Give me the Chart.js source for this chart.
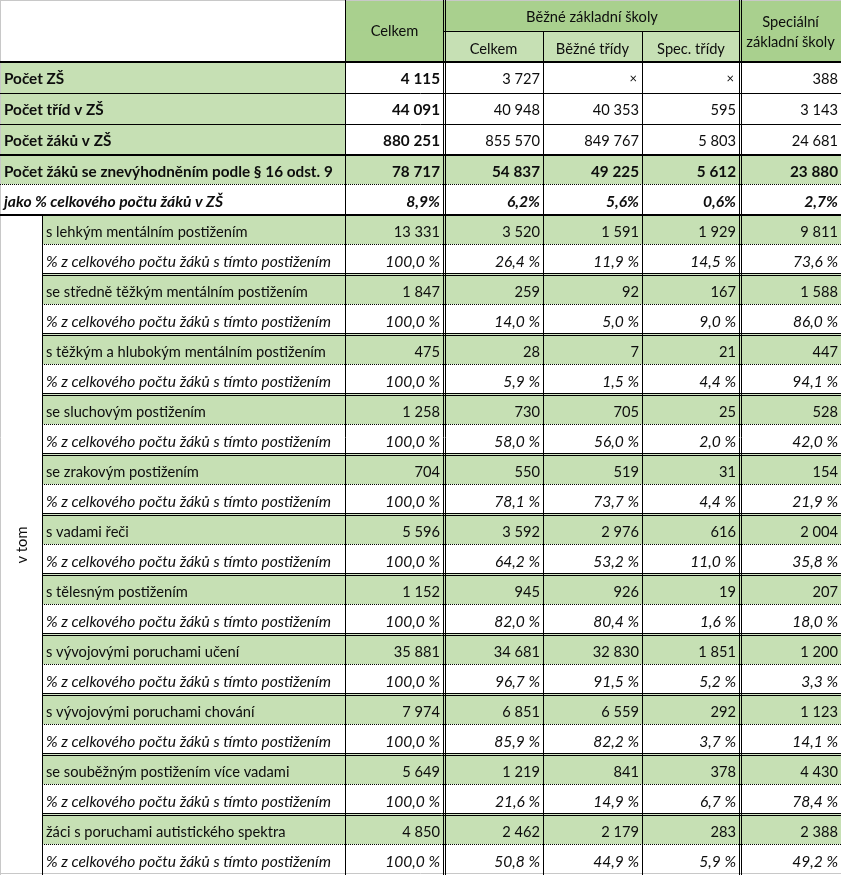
<!DOCTYPE html>
<html lang="cs">
<head>
<meta charset="utf-8">
<title>Žáci se znevýhodněním v ZŠ</title>
<script src="https://cdn.jsdelivr.net/npm/chart.js@4.4.1/dist/chart.umd.min.js"></script>
<style>
  html, body { margin: 0; padding: 0; background: #fff; }
  #wrap { width: 841px; height: 875px; }
</style>
</head>
<body>
<div id="wrap"><canvas id="table" width="841" height="875"></canvas></div>
<script>
// header texts
const headTop = ["Celkem", "Běžné základní školy", "Speciální", "základní školy"];
const headSub = ["Celkem", "Běžné třídy", "Spec. třídy"];

// summary block (null = ×)
const summaryLabels = [
  "Počet ZŠ",
  "Počet tříd v ZŠ",
  "Počet žáků v ZŠ",
  "Počet žáků se znevýhodněním podle § 16 odst. 9",
  "jako % celkového počtu žáků v ZŠ"
];
const summaryCelkem = [4115, 44091, 880251, 78717, 8.9];
const summaryBzs = [3727, 40948, 855570, 54837, 6.2];
const summaryBezne = [null, 40353, 849767, 49225, 5.6];
const summarySpec = [null, 595, 5803, 5612, 0.6];
const summarySzs = [388, 3143, 24681, 23880, 2.7];

// breakdown by disability
const groupTitle = "v tom";
const shareLabel = "% z celkového počtu žáků s tímto postižením";
const disabilities = [
  "s lehkým mentálním postižením",
  "se středně těžkým mentálním postižením",
  "s těžkým a hlubokým mentálním postižením",
  "se sluchovým postižením",
  "se zrakovým postižením",
  "s vadami řeči",
  "s tělesným postižením",
  "s vývojovými poruchami učení",
  "s vývojovými poruchami chování",
  "se souběžným postižením více vadami",
  "žáci s poruchami autistického spektra"
];
const pupilsCelkem = [13331, 1847, 475, 1258, 704, 5596, 1152, 35881, 7974, 5649, 4850];
const pupilsBzs = [3520, 259, 28, 730, 550, 3592, 945, 34681, 6851, 1219, 2462];
const pupilsBezne = [1591, 92, 7, 705, 519, 2976, 926, 32830, 6559, 841, 2179];
const pupilsSpec = [1929, 167, 21, 25, 31, 616, 19, 1851, 292, 378, 283];
const pupilsSzs = [9811, 1588, 447, 528, 154, 2004, 207, 1200, 1123, 4430, 2388];
const shareCelkem = [100, 100, 100, 100, 100, 100, 100, 100, 100, 100, 100];
const shareBzs = [26.4, 14.0, 5.9, 58.0, 78.1, 64.2, 82.0, 96.7, 85.9, 21.6, 50.8];
const shareBezne = [11.9, 5.0, 1.5, 56.0, 73.7, 53.2, 80.4, 91.5, 82.2, 14.9, 44.9];
const shareSpec = [14.5, 9.0, 4.4, 2.0, 4.4, 11.0, 1.6, 5.2, 3.7, 6.7, 5.9];
const shareSzs = [73.6, 86.0, 94.1, 42.0, 21.9, 35.8, 18.0, 3.3, 14.1, 78.4, 49.2];

// layout: column edges on the x scale ("v tom" | label | 5 value columns)
const EDGE = [0, 42, 345, 444, 543, 642, 740, 841];
// layout: row heights on the y scale (2 header rows, 5 summary rows, 22 breakdown rows)
const HEAD_H = [31, 31];
const SUM_H = [31, 31, 31, 30, 30];
const GRP_H = 30;
const DARK = "#a9d08e";
const LIGHT = "#c6e0b4";
const WHITE = "#ffffff";
const INK = "#0d0d0d";
const FONT = "Lato, 'Open Sans', sans-serif";
const FS = 15;
// text widths the labels should take (Excel / Calibri look), used to size each style
const FIT = {
  "0,0": ["s těžkým a hlubokým mentálním postižením", 280],
  "1,0": ["Počet žáků se znevýhodněním podle § 16 odst. 9", 329],
  "0,1": ["% z celkového počtu žáků s tímto postižením", 285],
  "1,1": ["jako % celkového počtu žáků v ZŠ", 219]
};

// rows: 2 header rows, 5 summary rows, 2 rows per disability
const summaryCols = [summaryCelkem, summaryBzs, summaryBezne, summarySpec, summarySzs];
const pupilCols = [pupilsCelkem, pupilsBzs, pupilsBezne, pupilsSpec, pupilsSzs];
const shareCols = [shareCelkem, shareBzs, shareBezne, shareSpec, shareSzs];

const rows = [{ type: "h1", h: HEAD_H[0] }, { type: "h2", h: HEAD_H[1] }];
summaryLabels.forEach((lab, i) => {
  const type = i < 3 ? "count" : i === 3 ? "znev" : "pct";
  rows.push({ type, h: SUM_H[i], label: lab, values: summaryCols.map(c => c[i]) });
});
disabilities.forEach((lab, i) => {
  rows.push({ type: "num", h: GRP_H, label: lab, values: pupilCols.map(c => c[i]) });
  rows.push({ type: "share", h: GRP_H, label: shareLabel, values: shareCols.map(c => c[i]) });
});
let acc = 0;
rows.forEach(r => { r.y0 = acc; acc += r.h; r.y1 = acc; r.yc = (r.y0 + r.y1) / 2; });
const TABLE_H = acc;

function fmtInt(v) {
  if (v == null) return "×";
  return String(v).replace(/\B(?=(\d{3})+(?!\d))/g, " ");
}
function fmtPct(v, space) {
  return v.toFixed(1).replace(".", ",") + (space ? " %" : "%");
}

function labelBg(r) {
  if (r.type === "count" || r.type === "znev" || r.type === "num") return LIGHT;
  return WHITE;
}
function valueBg(r, j) {
  if (r.type === "h1") return DARK;
  if (r.type === "h2") return (j === 0 || j === 4) ? DARK : LIGHT;
  if (r.type === "znev" || r.type === "num") return LIGHT;
  return WHITE;
}

const inGroup = r => r.type === "num" || r.type === "share";
const datasets = [];
// "v tom" column
const grpRows = rows.filter(inGroup);
datasets.push({
  label: "vtom",
  data: grpRows.map(r => ({ x: [EDGE[0], EDGE[1]], y: r.yc })),
  backgroundColor: WHITE
});
// label column
datasets.push({
  label: "labels",
  data: rows.map(r => ({ x: inGroup(r) ? [EDGE[1], EDGE[2]] : [EDGE[0], EDGE[2]], y: r.yc })),
  backgroundColor: rows.map(labelBg)
});
// value columns
for (let j = 0; j < 5; j++) {
  datasets.push({
    label: "col" + j,
    data: rows.map(r => ({ x: [EDGE[j + 2], EDGE[j + 3]], y: r.yc })),
    backgroundColor: rows.map(r => valueBg(r, j))
  });
}

const sizeCache = {};
function fontFor(ctx, bold, italic) {
  const key = (bold ? 1 : 0) + "," + (italic ? 1 : 0);
  const style = (italic ? "italic " : "") + (bold ? "bold " : "");
  if (!sizeCache[key]) {
    ctx.font = style + FS + "px " + FONT;
    const w = ctx.measureText(FIT[key][0]).width;
    let s = FS * FIT[key][1] / w;
    s = Math.max(13, Math.min(17, s));
    sizeCache[key] = s.toFixed(2);
  }
  return style + sizeCache[key] + "px " + FONT;
}

const tablePlugin = {
  id: "tableText",
  afterDatasetsDraw(chart) {
    const ctx = chart.ctx;
    const xs = chart.scales.x, ys = chart.scales.y;
    const top = i => ys.getPixelForValue(rows[i].y0);
    const bot = i => ys.getPixelForValue(rows[i].y1);
    const mid = i => ys.getPixelForValue(rows[i].yc);
    const X = e => xs.getPixelForValue(EDGE[e]);
    const last = rows.length - 1;
    const px = v => Math.round(v) + 0.5;

    function line(x0, y0, x1, y1, w, color, dash) {
      ctx.save();
      ctx.strokeStyle = color || "#000";
      ctx.lineWidth = w || 1;
      ctx.setLineDash(dash || []);
      ctx.beginPath();
      ctx.moveTo(x0, y0);
      ctx.lineTo(x1, y1);
      ctx.stroke();
      ctx.restore();
    }
    const hThin = (y, a, b) => line(X(a), px(y), X(b), px(y), 1);
    const hThick = (y, a, b) => line(X(a), Math.round(y), X(b), Math.round(y), 2);
    const hDot = (y, a, b) => line(X(a), px(y - 1), X(b), px(y - 1), 1, "#000", [1, 1]);
    const hDouble = (y, a, b) => { hThin(y - 2, a, b); hThin(y, a, b); };
    const vThin = (e, y0, y1) => line(px(X(e)), y0, px(X(e)), y1, 1);
    const vDouble = (e, y0, y1) => {
      const c = Math.round(X(e));
      line(c - 0.5, y0, c - 0.5, y1, 1);
      line(c + 1.5, y0, c + 1.5, y1, 1);
    };

    // ---- borders
    const yEnd = bot(last);
    line(0, 0.5, X(7), 0.5, 1, "#c8c8c8");
    line(0.5, 0, 0.5, yEnd, 1, "#c8c8c8");
    line(0, yEnd - 1.5, X(7), yEnd - 1.5, 1, "#c8c8c8");

    hThin(bot(0), 3, 6);
    hThin(bot(2), 0, 7);
    hThin(bot(3), 0, 7);
    hDot(bot(5), 0, 7);
    for (let i = 7; i < last; i += 2) {
      hDot(bot(i), 1, 7);
      if (i + 1 < last) hDouble(bot(i + 1), 1, 7);
    }
    vThin(1, top(7), yEnd);
    vThin(2, 0, yEnd);
    vThin(4, bot(0), yEnd);
    vThin(5, bot(0), yEnd);
    vDouble(3, 0, yEnd);
    vDouble(6, 0, yEnd);
    hThick(bot(1), 0, 7);
    hThick(bot(4), 0, 7);
    hThick(bot(6), 0, 7);

    // ---- text
    ctx.save();
    ctx.fillStyle = INK;
    ctx.textBaseline = "alphabetic";
    const text = (s, x, y, align, bold, italic) => {
      ctx.font = fontFor(ctx, bold, italic);
      ctx.textAlign = align;
      ctx.fillText(s, x, y);
    };
    const cx = (a, b) => (X(a) + X(b)) / 2;

    // header
    text(headTop[0], cx(2, 3), bot(0) + 5, "center");
    text(headTop[1], cx(3, 6), mid(0) + 6, "center");
    text(headTop[2], cx(6, 7), bot(0) - 4, "center");
    text(headTop[3], cx(6, 7), bot(0) + 16, "center");
    headSub.forEach((s, j) => text(s, cx(3 + j, 4 + j), mid(1) + 7, "center"));

    rows.forEach((r, i) => {
      if (r.type === "h1" || r.type === "h2") return;
      const base = mid(i) + 6.5;
      const grp = inGroup(r);
      const italic = r.type === "pct" || r.type === "share";
      text(r.label, X(grp ? 1 : 0) + 4, base, "left", !grp, italic);
      r.values.forEach((v, j) => {
        let s;
        if (r.type === "pct") s = fmtPct(v, false);
        else if (r.type === "share") s = fmtPct(v, true);
        else s = fmtInt(v);
        const bold = r.type === "znev" || r.type === "pct" || (r.type === "count" && j === 0);
        const xr = X(j + 3) - (j === 0 || j === 3 ? 4 : 3);
        if (v == null) {
          ctx.font = (FS - 2) + "px " + FONT;
          ctx.textAlign = "right";
          ctx.fillText(s, xr - 2, base - 1);
        } else {
          text(s, xr, base, "right", bold, italic);
        }
      });
    });

    // rotated group title
    ctx.translate(cx(0, 1) + 6, (top(7) + yEnd) / 2);
    ctx.rotate(-Math.PI / 2);
    text(groupTitle, 0, 0, "center");
    ctx.restore();
  }
};

new Chart(document.getElementById("table"), {
  type: "bar",
  data: { datasets },
  options: {
    indexAxis: "y",
    responsive: false,
    devicePixelRatio: 1,
    animation: false,
    layout: { padding: 0 },
    datasets: {
      bar: { grouped: false, barThickness: 31, borderWidth: 0 }
    },
    scales: {
      x: { type: "linear", min: 0, max: 841, display: false },
      y: { type: "linear", min: 0, max: TABLE_H, reverse: true, offset: false, display: false }
    },
    plugins: {
      legend: { display: false },
      tooltip: { enabled: false }
    }
  },
  plugins: [tablePlugin]
});
</script>
</body>
</html>
